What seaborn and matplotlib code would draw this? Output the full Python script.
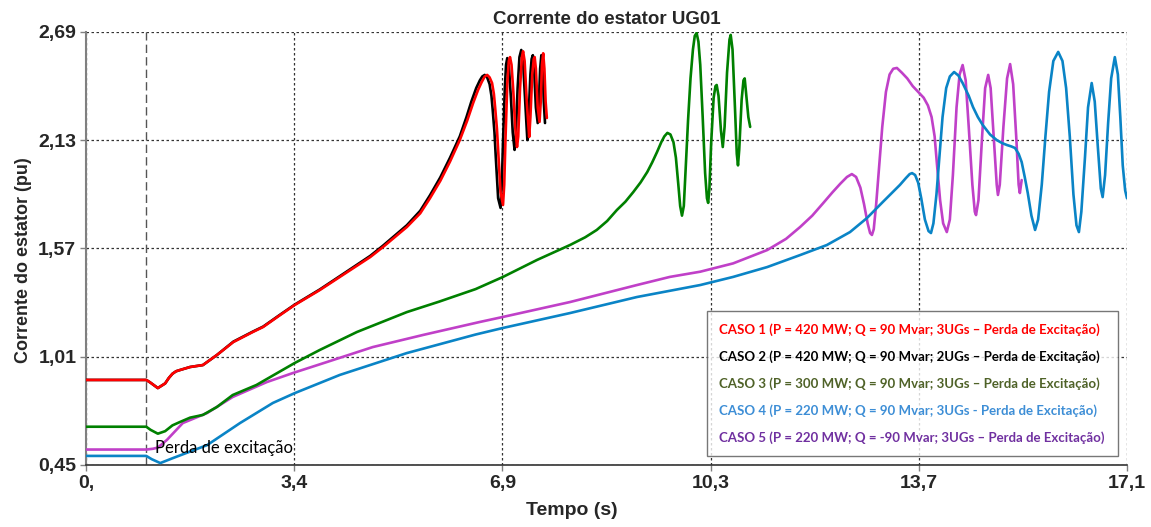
import numpy as np
import pandas as pd
import matplotlib
matplotlib.use("Agg")
import matplotlib.pyplot as plt
from matplotlib.lines import Line2D
import seaborn as sns

# ---------------- data ----------------
t_caso1 = [0.0, 0.99, 1.05, 1.18, 1.30, 1.36, 1.42, 1.48, 1.54, 1.71, 1.92, 2.15, 2.42, 2.74, 2.91, 3.19,
           3.43, 3.84, 4.17, 4.67, 4.88, 5.27, 5.49, 5.65, 5.82, 5.98, 6.14, 6.26, 6.36, 6.44, 6.50,
           6.55, 6.59, 6.63, 6.67, 6.70, 6.72, 6.75, 6.77, 6.81, 6.85, 6.87, 6.89, 6.92, 6.945, 6.965,
           6.99, 7.02, 7.05, 7.08, 7.10, 7.13, 7.16, 7.18, 7.205, 7.24, 7.28, 7.30, 7.33, 7.355, 7.37,
           7.39, 7.42, 7.45, 7.47, 7.49, 7.51, 7.53, 7.55, 7.57]
y_caso1 = [0.890, 0.890, 0.878, 0.848, 0.872, 0.900, 0.922, 0.935, 0.941, 0.957, 0.967, 1.019, 1.086, 1.138,
           1.164, 1.226, 1.278, 1.355, 1.423, 1.526, 1.578, 1.681, 1.752, 1.830, 1.920, 2.020, 2.131,
           2.230, 2.323, 2.390, 2.431, 2.460, 2.468, 2.455, 2.426, 2.370, 2.302, 2.190, 2.080, 1.860,
           1.795, 1.900, 2.130, 2.420, 2.540, 2.560, 2.520, 2.380, 2.200, 2.095, 2.150, 2.400, 2.560,
           2.590, 2.540, 2.330, 2.147, 2.250, 2.470, 2.550, 2.560, 2.500, 2.300, 2.225, 2.330, 2.520,
           2.580, 2.500, 2.330, 2.245]

t_caso2 = [0.0, 0.99, 1.05, 1.18, 1.30, 1.36, 1.42, 1.48, 1.54, 1.71, 1.92, 2.15, 2.42, 2.74, 2.91, 3.19,
           3.43, 3.84, 4.17, 4.67, 4.88, 5.27, 5.49, 5.65, 5.82, 5.98, 6.14, 6.25, 6.33, 6.41, 6.47,
           6.51, 6.55, 6.59, 6.63, 6.66, 6.68, 6.71, 6.73, 6.77, 6.81, 6.83, 6.85, 6.88, 6.90, 6.92,
           6.945, 6.98, 7.01, 7.04, 7.06, 7.09, 7.12, 7.15, 7.18, 7.22, 7.25, 7.27, 7.30, 7.32, 7.34,
           7.36, 7.39, 7.42, 7.44, 7.46, 7.48, 7.50, 7.52, 7.54]
y_caso2 = [0.890, 0.890, 0.878, 0.848, 0.872, 0.900, 0.922, 0.935, 0.941, 0.957, 0.967, 1.019, 1.088, 1.140,
           1.166, 1.228, 1.280, 1.358, 1.427, 1.532, 1.585, 1.690, 1.765, 1.845, 1.938, 2.040, 2.150,
           2.250, 2.330, 2.400, 2.440, 2.460, 2.468, 2.455, 2.420, 2.360, 2.290, 2.170, 2.050, 1.830,
           1.780, 1.900, 2.120, 2.400, 2.520, 2.555, 2.520, 2.350, 2.170, 2.080, 2.150, 2.400, 2.560,
           2.597, 2.530, 2.300, 2.131, 2.250, 2.470, 2.550, 2.570, 2.500, 2.300, 2.219, 2.330, 2.500,
           2.570, 2.500, 2.330, 2.219]

t_caso3 = [0.0, 0.99, 1.06, 1.18, 1.30, 1.42, 1.54, 1.71, 1.92, 2.15, 2.41, 2.80, 3.43, 3.84, 4.45,
           5.27, 5.80, 6.40, 6.85, 7.41, 7.95, 8.20, 8.39, 8.56, 8.72, 8.86, 8.99, 9.11, 9.22, 9.30,
           9.38, 9.45, 9.50, 9.55, 9.60, 9.65, 9.69, 9.73, 9.76, 9.79, 9.82, 9.85, 9.89, 9.93, 9.97,
           10.00, 10.03, 10.06, 10.09, 10.13, 10.17, 10.20, 10.22, 10.24, 10.27, 10.31, 10.34, 10.36,
           10.39, 10.43, 10.46, 10.49, 10.53, 10.57, 10.59, 10.62, 10.66, 10.69, 10.71, 10.73, 10.77,
           10.80, 10.82, 10.85, 10.88, 10.91]
y_caso3 = [0.648, 0.648, 0.632, 0.612, 0.625, 0.655, 0.672, 0.695, 0.709, 0.750, 0.812, 0.864, 0.978,
           1.045, 1.138, 1.241, 1.295, 1.360, 1.423, 1.511, 1.588, 1.628, 1.666, 1.712, 1.769, 1.812,
           1.862, 1.912, 1.966, 2.015, 2.069, 2.120, 2.150, 2.168, 2.160, 2.120, 2.040, 1.900, 1.790,
           1.740, 1.790, 1.980, 2.235, 2.450, 2.600, 2.670, 2.685, 2.640, 2.520, 2.250, 1.960, 1.830,
           1.806, 1.880, 2.120, 2.350, 2.410, 2.416, 2.360, 2.180, 2.095, 2.200, 2.480, 2.650, 2.675,
           2.600, 2.300, 2.060, 2.000, 2.080, 2.340, 2.440, 2.450, 2.350, 2.250, 2.199]

t_caso4 = [0.0, 0.99, 1.08, 1.22, 1.43, 1.99, 2.53, 3.07, 3.43, 4.17, 5.27, 6.40, 6.85, 7.95, 9.05,
           10.09, 10.63, 11.19, 11.46, 11.73, 12.17, 12.55, 12.83, 13.09, 13.23, 13.37, 13.47, 13.53,
           13.57, 13.62, 13.67, 13.72, 13.78, 13.84, 13.88, 13.92, 13.97, 14.02, 14.07, 14.13, 14.19,
           14.26, 14.33, 14.40, 14.50, 14.57, 14.65, 14.73, 14.85, 14.96, 15.05, 15.13, 15.20, 15.26,
           15.32, 15.37, 15.42, 15.47, 15.53, 15.59, 15.64, 15.70, 15.76, 15.82, 15.89, 15.97, 16.04,
           16.10, 16.16, 16.22, 16.27, 16.31, 16.35, 16.41, 16.46, 16.52, 16.57, 16.62, 16.67, 16.70,
           16.74, 16.79, 16.84, 16.90, 16.95, 16.99, 17.03, 17.07, 17.10]
y_caso4 = [0.497, 0.497, 0.480, 0.460, 0.486, 0.553, 0.667, 0.771, 0.822, 0.916, 1.029, 1.125, 1.159,
           1.236, 1.319, 1.381, 1.423, 1.474, 1.505, 1.536, 1.588, 1.655, 1.728, 1.811, 1.855, 1.899,
           1.935, 1.955, 1.960, 1.950, 1.910, 1.830, 1.720, 1.660, 1.650, 1.700, 1.850, 2.050, 2.250,
           2.400, 2.460, 2.483, 2.465, 2.426, 2.360, 2.302, 2.250, 2.209, 2.160, 2.131, 2.115, 2.105,
           2.098, 2.090, 2.060, 2.017, 1.940, 1.857, 1.740, 1.666, 1.720, 1.900, 2.150, 2.380, 2.540,
           2.587, 2.540, 2.400, 2.150, 1.850, 1.690, 1.655, 1.760, 2.043, 2.300, 2.426, 2.330, 2.100,
           1.880, 1.836, 1.950, 2.219, 2.450, 2.560, 2.470, 2.250, 2.000, 1.870, 1.830]

t_caso5 = [0.0, 0.99, 1.10, 1.18, 1.33, 1.59, 1.99, 2.41, 2.97, 3.40, 3.96, 4.71, 5.54, 6.47, 6.85,
           7.95, 9.05, 9.59, 10.09, 10.63, 11.19, 11.50, 11.73, 11.93, 12.11, 12.26, 12.39, 12.50,
           12.58, 12.65, 12.72, 12.78, 12.84, 12.88, 12.91, 12.94, 12.98, 13.03, 13.08, 13.14, 13.20,
           13.26, 13.32, 13.40, 13.49, 13.58, 13.67, 13.76, 13.83, 13.89, 13.94, 13.98, 14.03, 14.08,
           14.14, 14.19, 14.24, 14.30, 14.35, 14.40, 14.45, 14.50, 14.56, 14.60, 14.62, 14.66, 14.72,
           14.77, 14.82, 14.86, 14.91, 14.96, 14.98, 15.01, 15.07, 15.13, 15.18, 15.23, 15.28, 15.32,
           15.34, 15.37]
y_caso5 = [0.530, 0.530, 0.534, 0.540, 0.580, 0.667, 0.719, 0.802, 0.879, 0.926, 0.983, 1.060, 1.123,
           1.190, 1.216, 1.293, 1.381, 1.423, 1.450, 1.493, 1.562, 1.620, 1.681, 1.740, 1.805, 1.860,
           1.905, 1.940, 1.955, 1.940, 1.885, 1.800, 1.700, 1.650, 1.640, 1.670, 1.800, 2.000, 2.200,
           2.380, 2.470, 2.500, 2.504, 2.480, 2.450, 2.410, 2.380, 2.350, 2.310, 2.250, 2.150, 2.000,
           1.820, 1.700, 1.655, 1.720, 1.950, 2.300, 2.470, 2.519, 2.440, 2.200, 1.900, 1.760, 1.743,
           1.820, 2.150, 2.400, 2.468, 2.400, 2.150, 1.900, 1.847, 1.900, 2.200, 2.450, 2.524, 2.420,
           2.150, 1.900, 1.857, 1.924]

legend_labels = [
    "CASO 1 (P = 420 MW; Q = 90 Mvar; 3UGs \u2013 Perda de Excitação)",
    "CASO 2 (P = 420 MW; Q = 90 Mvar; 2UGs \u2013 Perda de Excitação)",
    "CASO 3 (P = 300 MW; Q = 90 Mvar; 3UGs \u2013 Perda de Excitação)",
    "CASO 4 (P = 220 MW; Q = 90 Mvar; 3UGs - Perda de Excitação)",
    "CASO 5 (P = 220 MW; Q = -90 Mvar; 3UGs \u2013 Perda de Excitação)",
]
x_ticks = [0.0, 3.42, 6.84, 10.26, 13.68, 17.1]
x_ticklabels = ["0,", "3,4", "6,9", "10,3", "13,7", "17,1"]
y_ticks = [0.45, 1.01, 1.57, 2.13, 2.69]
y_ticklabels = ["0,45", "1,01", "1,57", "2,13", "2,69"]
t_event = 0.99

# ---------------- styling ----------------
sns.set_theme(style="white")
narrow = ["Liberation Sans Narrow", "Liberation Sans", "DejaVu Sans"]
calib = ["Lato", "DejaVu Sans"]
plt.rcParams["font.family"] = narrow

line_colors = ["#ff0000", "#000000", "#008000", "#0a84c6", "#c040c8"]
text_colors = ["#ff0000", "#000000", "#4f6228", "#3d8ed6", "#7030a0"]

series = [(t_caso1, y_caso1), (t_caso2, y_caso2), (t_caso3, y_caso3), (t_caso4, y_caso4), (t_caso5, y_caso5)]
frames = []
for i, (tt, yy) in enumerate(series):
    frames.append(pd.DataFrame({"t": tt, "i": yy, "caso": legend_labels[i]}))
df = pd.concat(frames, ignore_index=True)

fig = plt.figure(figsize=(11.51, 5.27), dpi=100)
ax = fig.add_axes([86 / 1151, 1 - 465 / 527, 1041 / 1151, 433 / 527])

draw_order = [4, 3, 2, 1, 0]
for k in draw_order:
    sub = df[df["caso"] == legend_labels[k]]
    sns.lineplot(data=sub, x="t", y="i", ax=ax, color=line_colors[k], linewidth=1.9,
                 sort=False, estimator=None, legend=False, zorder=3 + (4 - k) * 0.1)

ax.set_xlim(0, 17.1)
ax.set_ylim(0.45, 2.69)
ax.set_xticks(x_ticks)
ax.set_xticklabels(x_ticklabels, fontsize=14, fontweight="bold", family=narrow)
ax.set_yticks(y_ticks)
ax.set_yticklabels(y_ticklabels, fontsize=14, fontweight="bold", family=narrow)
ax.tick_params(axis="both", which="both", direction="out", length=4, width=1, color="#808080",
               bottom=True, left=True, pad=3)
ax.grid(True, linestyle=(0, (2, 2)), color="#333333", linewidth=0.9)
ax.set_axisbelow(True)

for s in ["top", "right"]:
    ax.spines[s].set_visible(False)
ax.spines["left"].set_color("#808080")
ax.spines["left"].set_linewidth(1.5)
ax.spines["bottom"].set_color("#333333")
ax.spines["bottom"].set_linewidth(1.2)

ax.axvline(t_event, color="#555555", linestyle=(0, (6, 3)), linewidth=1.0, zorder=2)

ax.set_title("Corrente do estator UG01", fontsize=13.5, fontweight="bold", family=narrow, pad=6)
ax.set_xlabel("Tempo (s)", fontsize=14, fontweight="bold", family=narrow)
ax.set_ylabel("Corrente do estator (pu)", fontsize=13, fontweight="bold", family=["Liberation Sans", "DejaVu Sans"])
ax.xaxis.set_label_coords(0.467, -0.085)
ax.yaxis.set_label_coords(-0.052, 0.473)

ax.text(1.13, 0.540, "Perda de excitação", fontsize=12, family=calib, color="black",
        ha="left", va="center", zorder=6)

handles = [Line2D([], [], color=c, linewidth=0) for c in line_colors]
leg = ax.legend(handles, legend_labels, loc="upper left", bbox_to_anchor=(0.5965, 0.3557),
                frameon=True, fancybox=False, handlelength=0, handletextpad=0,
                labelcolor=text_colors, prop={"family": calib, "weight": "bold", "size": 9.5},
                labelspacing=1.08, borderpad=0.95, borderaxespad=0)
leg.get_frame().set_edgecolor("#555555")
leg.get_frame().set_linewidth(1.0)
leg.set_zorder(10)

fig.savefig("out.png", dpi=100)
